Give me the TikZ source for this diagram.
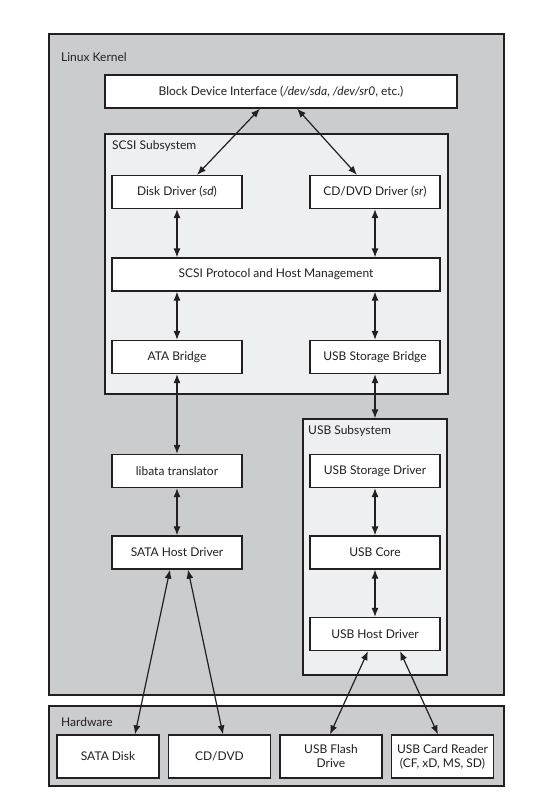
\documentclass[tikz,border=0pt]{standalone}
\usepackage{fontspec}
\setmainfont{Lato}
\usepackage{tikz}
\usetikzlibrary{arrows.meta}
\definecolor{kernelgray}{RGB}{203,204,206}
\definecolor{subgray}{RGB}{238,239,240}
\definecolor{ink}{RGB}{35,31,32}

\begin{document}
\begin{tikzpicture}[x=1pt,y=-1pt,>={Latex[length=9pt,width=7pt]},
        every node/.style={font=\fontsize{12}{14}\selectfont, text=ink},
        frame/.style={draw=ink, line width=1.2pt, fill=kernelgray, inner sep=0pt},
        subframe/.style={draw=ink, line width=1.2pt, fill=subgray, inner sep=0pt},
        module/.style={draw=ink, line width=1.2pt, fill=white, inner sep=0pt, align=center,
            minimum width=130pt, minimum height=33pt},
        device/.style={module, minimum width=102pt, minimum height=43pt},
        framelabel/.style={anchor=west, inner sep=0pt},
        link/.style={draw=ink, line width=1.2pt, <->}]
        \useasboundingbox (0,0) rectangle (549,810);
        % Frames
        \node[frame, minimum width=455pt, minimum height=661pt] (kernel) at (276.5,364.5) {};
        \node[frame, minimum width=455pt, minimum height=80pt] (hw) at (276.5,746) {};
        \node[subframe, minimum width=343pt, minimum height=260pt] (scsi) at (276.5,264) {};
        \node[subframe, minimum width=144pt, minimum height=256pt] (usbsys) at (375,547) {};
        \node[framelabel] (kernellbl) at (61,57) {Linux Kernel};
        \node[framelabel] (hwlbl) at (61,722) {Hardware};
        \node[framelabel] (scsilbl) at (112,146) {SCSI Subsystem};
        \node[framelabel] (usblbl) at (308,431) {USB Subsystem};
        % Kernel modules
        \node[module, minimum width=352pt] (bdi) at (281,91.5) {Block Device Interface (\textit{/dev/sda}, \textit{/dev/sr0}, etc.)};
        \node[module] (disk) at (177,192) {Disk Driver (\textit{sd})};
        \node[module] (cddrv) at (375,192) {CD/DVD Driver (\textit{sr})};
        \node[module, minimum width=328pt] (proto) at (276,274.5) {SCSI Protocol and Host Management};
        \node[module] (ata) at (177,357) {ATA Bridge};
        \node[module] (usbbr) at (375,357) {USB Storage Bridge};
        \node[module] (libata) at (177,471) {libata translator};
        \node[module] (sata) at (177,552.5) {SATA Host Driver};
        \node[module] (usbstor) at (375,471) {USB Storage Driver};
        \node[module] (usbcore) at (375,552.5) {USB Core};
        \node[module] (usbhost) at (375,634) {USB Host Driver};
        % Devices
        \node[device] (sdisk) at (108,756.5) {SATA Disk};
        \node[device] (cddvd) at (219.5,756.5) {CD/DVD};
        \node[device] (flash) at (331,756.5) {USB Flash\\Drive};
        \node[device] (reader) at (442.5,756.5) {USB Card Reader\\(CF, xD, MS, SD)};
        % Arrows
        \draw[link] ([xshift=-21pt]bdi.south) -- ([xshift=20pt]disk.north);
        \draw[link] ([xshift=16pt]bdi.south) -- ([xshift=-18pt]cddrv.north);
        \draw[link] (disk.south) -- (disk.south |- proto.north);
        \draw[link] (cddrv.south) -- (cddrv.south |- proto.north);
        \draw[link] (ata.north |- proto.south) -- (ata.north);
        \draw[link] (usbbr.north |- proto.south) -- (usbbr.north);
        \draw[link] (ata.south) -- (libata.north);
        \draw[link] (usbbr.south) -- (usbsys.north);
        \draw[link] (libata.south) -- (sata.north);
        \draw[link] (usbstor.south) -- (usbcore.north);
        \draw[link] (usbcore.south) -- (usbhost.north);
        \draw[link] ([xshift=-7pt]sata.south) -- ([xshift=27pt]sdisk.north);
        \draw[link] ([xshift=11pt]sata.south) -- ([xshift=3.5pt]cddvd.north);
        \draw[link] ([xshift=-7pt]usbhost.south) -- ([xshift=-1pt]flash.north);
        \draw[link] ([xshift=25pt]usbhost.south) -- ([xshift=-4.5pt]reader.north);
\end{tikzpicture}
\end{document}
